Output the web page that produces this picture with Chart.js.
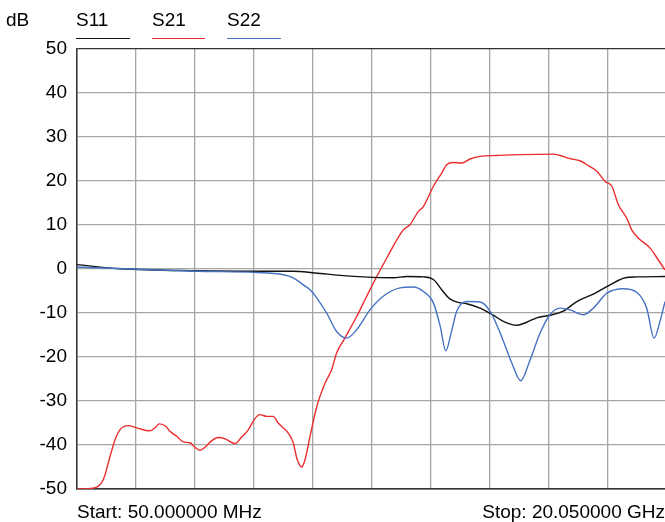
<!DOCTYPE html>
<html>
<head>
<meta charset="utf-8">
<script src="https://cdn.jsdelivr.net/npm/chart.js@4"></script>
<style>
  body { margin: 0; background: #fff; }
  #wrap { position: relative; width: 665px; height: 522px; }
  .txt { position: absolute; font-family: "Liberation Sans", Arial, sans-serif; font-size: 19px; line-height: 19px; color: #000; white-space: nowrap; }
  .leg { position: absolute; top: 10px; }
  .leg span { display: block; font-family: "Liberation Sans", Arial, sans-serif; font-size: 19px; line-height: 19px; }
  .leg i { position: absolute; left: 0; top: 28px; height: 1.4px; }
</style>
</head>
<body>
<div id="wrap">
  <canvas id="grafico-1" width="665" height="522"></canvas>
  <div class="txt" style="left:6px;top:10px">dB</div>
  <div class="leg" style="left:76px"><span>S11</span><i style="width:54px;background:#111"></i></div>
  <div class="leg" style="left:152px"><span>S21</span><i style="width:53px;background:rgb(235,45,45)"></i></div>
  <div class="leg" style="left:227px"><span>S22</span><i style="width:54px;background:rgb(70,114,196)"></i></div>
  <div class="txt" style="left:77px;top:502px">Start: 50.000000 MHz</div>
  <div class="txt" style="right:0px;top:502px">Stop: 20.050000 GHz</div>
</div>
<script>
const freqInicio = 0.05;
const freqFim = 19.98;
const passoGrade = 2;
const ticksDb = [50, 40, 30, 20, 10, 0, -10, -20, -30, -40, -50];

const s11_freq = [0.05, 1.51, 4.11, 6.14, 7.38, 8.12, 9.08, 9.76, 10.77, 11.23, 11.79, 12.13, 12.41, 12.69, 12.98, 13.26, 13.71, 14.16, 14.5, 14.96, 15.29, 15.63, 16.08, 16.53, 16.99, 17.55, 18.12, 18.63, 19.02, 19.98];
const s11_db = [1.0, 0.07, -0.4, -0.5, -0.5, -0.9, -1.5, -1.8, -2.0, -1.7, -1.8, -2.4, -4.7, -6.8, -7.6, -7.9, -8.9, -10.5, -11.9, -12.8, -12.1, -11.1, -10.5, -9.6, -7.4, -5.7, -3.6, -2.0, -1.8, -1.7];

const s21_freq = [0.06, 0.6, 0.94, 1.17, 1.34, 1.51, 1.79, 2.07, 2.52, 2.69, 2.84, 3.07, 3.2, 3.43, 3.65, 3.88, 4.05, 4.22, 4.39, 4.62, 4.84, 5.07, 5.41, 5.63, 5.86, 6.08, 6.25, 6.48, 6.7, 6.87, 7.21, 7.38, 7.5, 7.67, 7.78, 7.95, 8.18, 8.46, 8.68, 8.85, 9.13, 9.53, 9.87, 10.21, 10.55, 11.11, 11.34, 11.62, 11.79, 12.13, 12.41, 12.58, 12.81, 13.09, 13.37, 13.71, 14.28, 15.07, 16.2, 16.42, 16.76, 17.1, 17.33, 17.67, 17.95, 18.18, 18.4, 18.68, 18.85, 19.08, 19.47, 19.75, 19.98];
const s21_db = [-50, -49.8, -47.9, -42.6, -38.8, -36.5, -35.6, -36.1, -36.8, -36.1, -35.2, -35.8, -36.9, -38.0, -39.3, -39.5, -40.5, -41.2, -40.5, -39.0, -38.3, -38.6, -39.7, -38.2, -36.5, -34.0, -33.1, -33.5, -33.5, -35.0, -37.3, -39.5, -43.0, -45.0, -43.3, -38.0, -31.2, -25.9, -22.9, -19.1, -15.7, -10.8, -6.2, -1.7, 2.5, 8.9, 10.1, 13.1, 14.2, 18.8, 21.8, 23.7, 24.2, 24.1, 25.0, 25.6, 25.8, 26.0, 26.1, 25.8, 25.1, 24.6, 23.7, 22.2, 19.9, 18.8, 14.6, 11.6, 8.9, 7.0, 4.8, 2.1, -0.2];

const s22_freq = [0.05, 4.11, 6.14, 7.04, 7.38, 7.72, 7.95, 8.18, 8.51, 8.85, 9.19, 9.53, 9.98, 10.43, 11.0, 11.45, 11.79, 12.13, 12.36, 12.55, 12.75, 12.92, 13.26, 13.71, 14.05, 14.39, 14.79, 15.09, 15.41, 15.75, 16.08, 16.42, 16.76, 17.21, 17.55, 18.01, 18.57, 19.02, 19.36, 19.61, 19.81, 19.98];
const s22_db = [0.45, -0.5, -0.8, -1.3, -2.0, -3.6, -4.7, -6.6, -10.0, -14.2, -15.7, -13.8, -9.3, -6.2, -4.3, -4.1, -5.1, -7.7, -13.0, -18.6, -14.0, -9.6, -7.4, -7.5, -9.6, -14.5, -21.4, -25.4, -20.6, -14.5, -10.4, -8.9, -9.3, -10.4, -8.9, -5.5, -4.5, -5.3, -8.9, -15.7, -11.9, -7.4];

function pontos(freq, db) {
  return freq.map((f, i) => ({ x: f, y: db[i] }));
}

function serie(label, freq, db, cor) {
  return {
    label: label,
    data: pontos(freq, db),
    borderColor: cor,
    borderWidth: 1.4,
    pointRadius: 0,
    fill: false,
    cubicInterpolationMode: "monotone",
  };
}

const data1 = {
  datasets: [
    serie("S22", s22_freq, s22_db, "rgb(70, 114, 196)"),
    serie("S11", s11_freq, s11_db, "#111111"),
    serie("S21", s21_freq, s21_db, "rgb(235, 45, 45)"),
  ],
};

const options1 = {
  responsive: false,
  animation: false,
  layout: { padding: { top: 49, bottom: 33, left: 0, right: 0 } },
  plugins: { legend: { display: false }, tooltip: { enabled: false } },
  scales: {
    x: {
      type: "linear",
      min: freqInicio,
      max: freqFim,
      afterBuildTicks: (scale) => {
        const t = [];
        for (let f = freqInicio; f < freqFim; f += passoGrade) t.push({ value: f });
        scale.ticks = t;
      },
      afterFit: (scale) => { scale.height = 0; },
      ticks: { display: false },
      grid: { color: "#a6a6a6", lineWidth: 1.3, drawTicks: false },
      border: { color: "#333", width: 1.5 },
    },
    y: {
      min: -50,
      max: 50,
      afterBuildTicks: (scale) => {
        scale.ticks = ticksDb.map((v) => ({ value: v }));
      },
      afterFit: (scale) => { scale.width = 77; },
      ticks: {
        color: "#000",
        padding: 10,
        font: { family: "'Liberation Sans', Arial, sans-serif", size: 19 },
      },
      grid: {
        drawTicks: false,
        lineWidth: 1.3,
        color: (ctx) => (ctx.tick && (ctx.tick.value === 50 || ctx.tick.value === -50) ? "#333" : "#a6a6a6"),
      },
      border: { color: "#333", width: 1.5 },
    },
  },
};

const ctx1 = document.getElementById("grafico-1").getContext("2d");
const myChart1 = new Chart(ctx1, { type: "line", data: data1, options: options1 });
</script>
</body>
</html>
